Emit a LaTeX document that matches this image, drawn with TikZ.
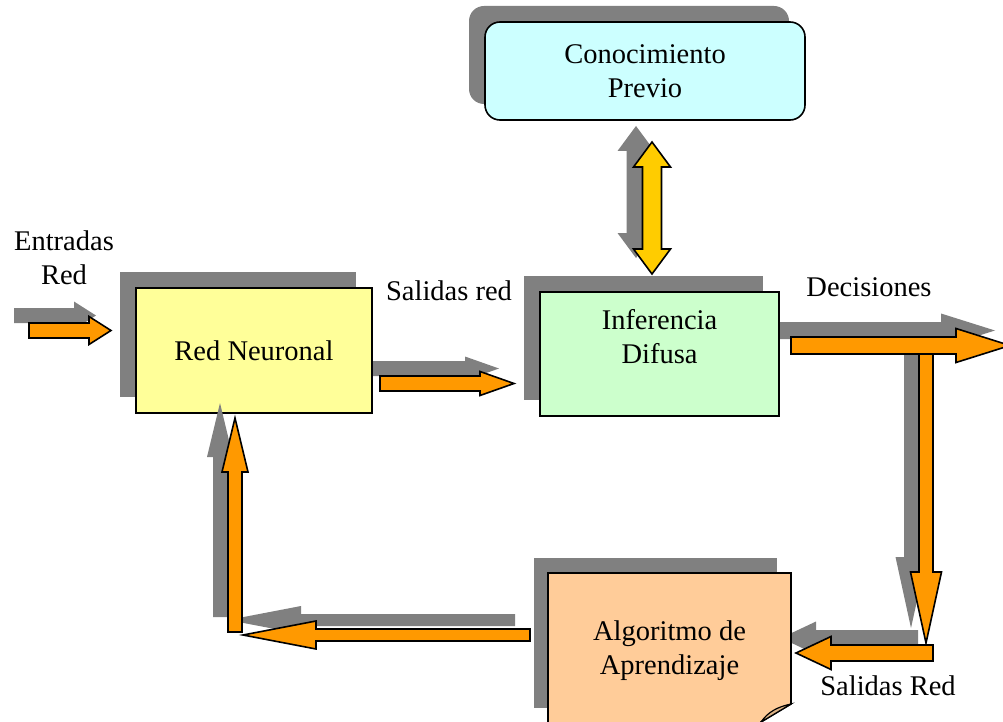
\documentclass[tikz,border=0pt]{standalone}
\usepackage{fontspec}
\setmainfont{Liberation Serif}
\usetikzlibrary{calc,shadows}

\definecolor{shadowgray}{HTML}{808080}
\definecolor{flowor}{HTML}{FF9900}
\definecolor{linkyel}{HTML}{FFCC00}
\definecolor{kbcyan}{HTML}{CCFFFF}
\definecolor{nnyellow}{HTML}{FFFF99}
\definecolor{fzgreen}{HTML}{CCFFCC}
\definecolor{algpeach}{HTML}{FFCC99}
\definecolor{curltan}{HTML}{DDB284}

\tikzset{
  box/.style={draw=black, line width=1.6pt, align=center, inner sep=0pt},
  boxshadow/.style={general shadow={fill=shadowgray, shadow xshift=-16pt, shadow yshift=16pt}},
  arrowshadow/.style={fill=shadowgray},
  arrowbody/.style={draw=black, line width=1.6pt, line join=miter},
  lbl/.style={align=center, inner sep=0pt},
}

% block arrow: style, tail, tip, half shaft, half head, head length
\newcommand\blockarrow[6]{%
  \coordinate (ba-t) at #2;
  \coordinate (ba-h) at #3;
  \coordinate (ba-b) at ($(ba-h)!#6!(ba-t)$);
  \path[#1] ($(ba-t)!#4!90:(ba-h)$) -- ($(ba-b)!#4!90:(ba-h)$)
    -- ($(ba-b)!#5!90:(ba-h)$) -- (ba-h) -- ($(ba-b)!#5!-90:(ba-h)$)
    -- ($(ba-b)!#4!-90:(ba-h)$) -- ($(ba-t)!#4!-90:(ba-h)$) -- cycle;
}
% two-headed block arrow: style, tip a, tip b, half shaft, half head, head length
\newcommand\dblarrow[6]{%
  \coordinate (da-a) at #2;
  \coordinate (da-b) at #3;
  \coordinate (da-ab) at ($(da-a)!#6!(da-b)$);
  \coordinate (da-bb) at ($(da-b)!#6!(da-a)$);
  \path[#1] (da-a) -- ($(da-ab)!#5!90:(da-b)$) -- ($(da-ab)!#4!90:(da-b)$)
    -- ($(da-bb)!#4!-90:(da-a)$) -- ($(da-bb)!#5!-90:(da-a)$) -- (da-b)
    -- ($(da-bb)!#5!90:(da-a)$) -- ($(da-bb)!#4!90:(da-a)$)
    -- ($(da-ab)!#4!-90:(da-b)$) -- ($(da-ab)!#5!-90:(da-b)$) -- cycle;
}
% arrow with its grey shadow: tail, tip, half shaft, half head, head length, colour
\newcommand\shadedarrow[6]{%
  \blockarrow{arrowshadow}{($#1+(-15,-15)$)}{($#2+(-15,-15)$)}{#3}{#4}{#5}
  \blockarrow{arrowbody,fill=#6}{#1}{#2}{#3}{#4}{#5}
}

\begin{document}
\begin{tikzpicture}[x=1pt, y=-1pt, font=\fontsize{28.5}{34}\selectfont]
\path[use as bounding box] (0,0) rectangle (1003,722);
\clip (0,0) rectangle (1003,722);

% arrow end points
\coordinate (in-t) at (29,330.5);   \coordinate (in-h) at (111,330.5);
\coordinate (sr-t) at (380,383.5);  \coordinate (sr-h) at (514,383.5);
\coordinate (dec-t) at (791,345.5); \coordinate (dec-h) at (1010,345.5);
\coordinate (dn-t) at (926,350);    \coordinate (dn-h) at (926,643);
\coordinate (so-t) at (933,653);    \coordinate (so-h) at (796,653);
\coordinate (bt-t) at (530,635);    \coordinate (bt-h) at (243,635);
\coordinate (up-t) at (235,632);    \coordinate (up-h) at (235,418);
\coordinate (kb-a) at (652,142);    \coordinate (kb-b) at (652,274);

% arrows lying behind the boxes
\shadedarrow{(sr-t)}{(sr-h)}{7.5pt}{12pt}{34pt}{flowor}
\shadedarrow{(dn-t)}{(dn-h)}{7pt}{15.5pt}{71pt}{flowor}
\shadedarrow{(dec-t)}{(dec-h)}{8.5pt}{17pt}{54pt}{flowor}
\shadedarrow{(so-t)}{(so-h)}{8pt}{16.5pt}{35pt}{flowor}
\shadedarrow{(bt-t)}{(bt-h)}{6pt}{14pt}{73pt}{flowor}

% boxes
\node[box, boxshadow, fill=kbcyan, rounded corners=15pt,
      minimum width=320, minimum height=98] (kb) at (645,71)
      {Conocimiento\\Previo};
\node[box, boxshadow, fill=nnyellow, minimum width=236, minimum height=125]
      (rn) at (254,350.5) {Red Neuronal};
\node[box, boxshadow, fill=fzgreen, minimum width=239, minimum height=124]
      (inf) at (659.5,354) {};
\node[lbl] (inf-txt) at (659.5,337) {Inferencia\\Difusa};

% learning box with a curled corner
\coordinate (alg-nw) at (548,573);
\coordinate (alg-se) at (791,726);
\fill[shadowgray] ($(alg-nw)+(-14,-15)$) rectangle (777,708);
\draw[fill=algpeach, line width=1.6pt, line join=miter]
  (alg-nw) -- (alg-nw -| alg-se) -- (791,704) -- (761,722) -- (761,726)
  -- (alg-se -| alg-nw) -- cycle;
\draw[fill=curltan, line width=1.2pt]
  (791,704) .. controls (777,707) and (768,712) .. (761,722) -- cycle;
\node[lbl] (alg) at (669.5,651) {Algoritmo de\\Aprendizaje};

% arrows lying in front of the boxes
\shadedarrow{(up-t)}{(up-h)}{7pt}{13pt}{54pt}{flowor}
\shadedarrow{(in-t)}{(in-h)}{7.5pt}{14pt}{22pt}{flowor}
\dblarrow{arrowshadow}{($(kb-a)+(-16,-16)$)}{($(kb-b)+(-16,-16)$)}{9.5pt}{18.5pt}{25pt}
\dblarrow{arrowbody,fill=linkyel}{(kb-a)}{(kb-b)}{9.5pt}{18.5pt}{25pt}

% labels
\node[lbl] (lbl-in) at (64,258) {Entradas\\Red};
\node[lbl] (lbl-sr) at (449,291) {Salidas red};
\node[lbl] (lbl-dec) at (869,287) {Decisiones};
\node[lbl] (lbl-so) at (888,686) {Salidas Red};
\end{tikzpicture}
\end{document}
